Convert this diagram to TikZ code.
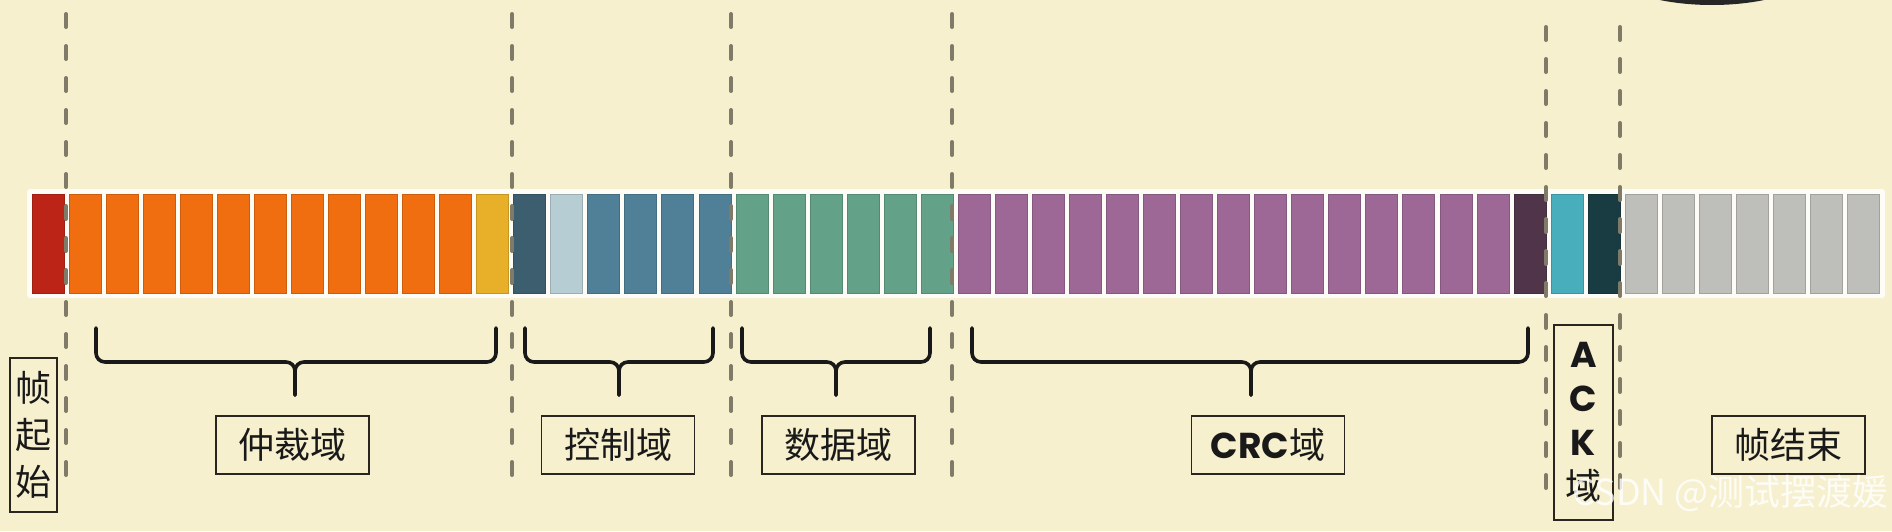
\documentclass[tikz,border=0pt]{standalone}
\usepackage{fontspec}
\setmainfont{Noto Sans CJK SC}
\newfontfamily\geofont{Poppins}
\definecolor{paper}{RGB}{246,240,206}
\definecolor{sofred}{RGB}{187,36,22}
\definecolor{arborange}{RGB}{240,110,15}
\definecolor{rtryellow}{RGB}{232,176,40}
\definecolor{ctrldark}{RGB}{60,94,110}
\definecolor{ctrllight}{RGB}{183,205,212}
\definecolor{ctrlblue}{RGB}{79,128,151}
\definecolor{datagreen}{RGB}{99,162,136}
\definecolor{crcpurple}{RGB}{157,103,150}
\definecolor{crcdelim}{RGB}{80,52,74}
\definecolor{ackcyan}{RGB}{72,174,188}
\definecolor{ackdelim}{RGB}{24,60,66}
\definecolor{eofgray}{RGB}{190,190,186}
\definecolor{dashgray}{RGB}{128,122,104}
\definecolor{boxline}{RGB}{40,38,30}
\usepackage{tikz}
\usetikzlibrary{positioning, calc}

\begin{document}
\begin{tikzpicture}[x=1pt, y=-1pt,
  every node/.style={font=\fontsize{36}{44}\selectfont, text=black!90},
  fieldbox/.style={draw=boxline, line width=1.6pt, inner sep=0pt, minimum width=153pt, minimum height=58pt},
  sepline/.style={dashgray, line width=4pt, line cap=round, dash pattern=on 13pt off 19pt},
  fieldbrace/.style={black!90, line width=3.6pt, rounded corners=9pt, line cap=round}]
  \clip (0,0) rectangle (1892,531);
  \fill[paper] (0,0) rectangle (1892,531);
  \fill[black!85] (1712,-41) ellipse [x radius=115, y radius=46];

  % Frame bits
  \fill[white, opacity=0.85, rounded corners=3pt] (27,189) rectangle (1885,298);
  \foreach \s/\n/\col in {0/1/sofred, 1/11/arborange, 12/1/rtryellow, 13/1/ctrldark,
      14/1/ctrllight, 15/4/ctrlblue, 19/6/datagreen, 25/15/crcpurple, 40/1/crcdelim,
      41/1/ackcyan, 42/1/ackdelim, 43/7/eofgray}{
    \foreach \k in {1,...,\n}{
      \pgfmathsetmacro{\x}{32+37.05*(\s+\k-1)}
      \filldraw[fill=\col, draw=\col!85!black, line width=0.8pt] (\x,194) rectangle ++(32,99);
    }
  }

  % Field borders
  \foreach \x in {66, 512, 731, 952}{
    \draw[sepline] (\x,14) -- (\x,476);
  }
  \foreach \x in {1546, 1620}{
    \draw[sepline] (\x,27) -- (\x,489);
  }

  % Braces
  \foreach \a/\b/\t in {96/496/295, 525/713/619, 742/930/836, 972/1528/1251}{
    \draw[fieldbrace] (\a,328) -- (\a,362) -- (\t,362) -- (\t,395);
    \draw[fieldbrace] (\b,328) -- (\b,362) -- (\t,362) -- (\t,395);
  }

  % Field names
  \node[fieldbox, minimum width=47pt, minimum height=154pt, align=center,
    font=\fontsize{36}{47}\selectfont] (sof) at (33.5,435) {帧\\起\\始};
  \node[fieldbox] (arb) at (292.5,445) {仲裁域};
  \node[fieldbox] (ctrl) at (618,445) {控制域};
  \node[fieldbox] (data) at (838.5,445) {数据域};
  \node[fieldbox] (crc) at (1268,445) {{\geofont\bfseries CRC}域};
  \node[fieldbox, minimum width=59pt, minimum height=195pt, align=center,
    font=\fontsize{36}{44}\selectfont] (ack) at (1583.5,422.5)
    {{\geofont\bfseries A}\\{\geofont\bfseries C}\\{\geofont\bfseries K}\\域};
  \node[fieldbox] (eof) at (1788.5,445) {帧结束};

  % Watermark
  \node[text=white, opacity=0.8, anchor=west, font=\fontsize{36}{40}\selectfont]
    (mark) at (1569,493) {CSDN @测试摆渡媛};
\end{tikzpicture}
\end{document}
